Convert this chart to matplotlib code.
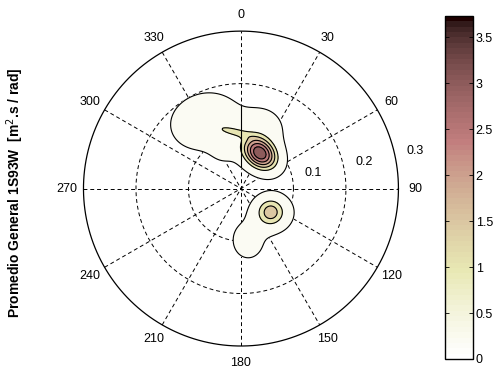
import numpy as np
import matplotlib
import matplotlib.pyplot as plt
from matplotlib.colors import Normalize

plt.rcParams['font.family'] = ['Liberation Sans', 'DejaVu Sans']

# spectral blobs
# direction (deg, clockwise from north), radius, amplitude, sigma major/minor, tilt (deg from +x)
blob_dir = [28.5, 332.0, 19.8, 352.0, 129.0, 123.0, 172.0, 337.6]
blob_rad = [0.076, 0.145, 0.118, 0.110, 0.071, 0.085, 0.099, 0.079]
blob_amp = [3.30, 0.60, 0.45, 0.85, 1.55, 0.30, 0.35, 0.25]
blob_sa = [0.024, 0.045, 0.030, 0.022, 0.019, 0.022, 0.027, 0.020]
blob_sb = [0.018, 0.036, 0.030, 0.006, 0.019, 0.022, 0.032, 0.020]
blob_tilt = [-40, 15, 0, -13, 0, 0, 0, 0]

levels = [0.2, 1.0, 1.5, 2.0, 2.5, 3.0, 3.5]
cbar_ticks = [0, 0.5, 1, 1.5, 2, 2.5, 3, 3.5]
zmax = 3.73
ring_vals = [0.1, 0.2, 0.3]
spoke_angles = list(range(0, 360, 30))

# polar grid of the spectrum
theta = np.deg2rad(np.linspace(0, 360, 361))
rr = np.linspace(0, 0.3, 151)
T, R = np.meshgrid(theta, rr, indexing='ij')
X = R * np.sin(T)
Y = R * np.cos(T)
Z = np.zeros_like(X)
for d, r0, a, sa, sb, tl in zip(blob_dir, blob_rad, blob_amp, blob_sa, blob_sb, blob_tilt):
    cx, cy = r0 * np.sin(np.deg2rad(d)), r0 * np.cos(np.deg2rad(d))
    c, s = np.cos(np.deg2rad(tl)), np.sin(np.deg2rad(tl))
    u = (X - cx) * c + (Y - cy) * s
    v = -(X - cx) * s + (Y - cy) * c
    Z += a * np.exp(-0.5 * ((u / sa) ** 2 + (v / sb) ** 2))

cmap = matplotlib.colormaps['pink_r'].resampled(64)
norm = Normalize(0, zmax)

fig = plt.figure(figsize=(4.96, 3.67), dpi=100)
ax = fig.add_axes([0.1683, 0.0572, 0.635, 0.858])
ax.set_xlim(-0.3, 0.3)
ax.set_ylim(-0.3, 0.3)
ax.axis('off')

# polar frame
rmax = ring_vals[-1]
phi = np.linspace(0, 2 * np.pi, 400)
for rv in ring_vals[:-1]:
    ax.plot(rv * np.cos(phi), rv * np.sin(phi), color='k', lw=0.7, ls=(0, (4, 3)), zorder=1)
ax.plot(rmax * np.cos(phi), rmax * np.sin(phi), color='k', lw=0.9, zorder=1, clip_on=False)
for a in spoke_angles[:6]:
    t = np.deg2rad(a)
    ax.plot([-rmax * np.sin(t), rmax * np.sin(t)], [-rmax * np.cos(t), rmax * np.cos(t)],
            color='k', lw=0.7, ls=(0, (4, 3)), zorder=1)
for a in spoke_angles:
    t = np.deg2rad(a)
    ax.text(1.105 * rmax * np.sin(t), 1.105 * rmax * np.cos(t), str(a),
            ha='center', va='center', fontsize=9, clip_on=False)
for rv in ring_vals:
    t = np.deg2rad(78)
    ax.text((rv + 0.04) * np.sin(t), (rv + 0.04) * np.cos(t), '%g' % rv,
            ha='center', va='center', fontsize=9, clip_on=False)

# filled contours, MATLAB style: each band gets the colour of its lower level
fill_cols = [cmap(norm(l)) for l in levels]
ax.contourf(X, Y, Z, levels=levels + [100], colors=fill_cols, zorder=2)
ax.contour(X, Y, Z, levels=levels, colors='k', linewidths=0.8, zorder=3)

# seam of the contour grid along direction 0
on = rr[Z[0, :] >= levels[0]]
if on.size:
    ax.plot([0, 0], [on.min(), on.max()], color='k', lw=0.8, zorder=3)

# colorbar
cax = fig.add_axes([0.897, 0.0218, 0.0565, 0.9346])
sm = matplotlib.cm.ScalarMappable(norm=norm, cmap=cmap)
cb = fig.colorbar(sm, cax=cax, ticks=cbar_ticks)
cb.ax.set_yticklabels(['%g' % t for t in cbar_ticks])
cb.ax.tick_params(direction='in', left=True, right=True, length=3, width=0.6, labelsize=9, pad=2)
cb.outline.set_linewidth(1.0)

fig.text(0.03, 0.475, 'Promedio General 1S93W  [m$^2$.s / rad]', rotation=90,
         ha='center', va='center', fontsize=10, fontweight='bold')

fig.savefig('out.png', dpi=100)
